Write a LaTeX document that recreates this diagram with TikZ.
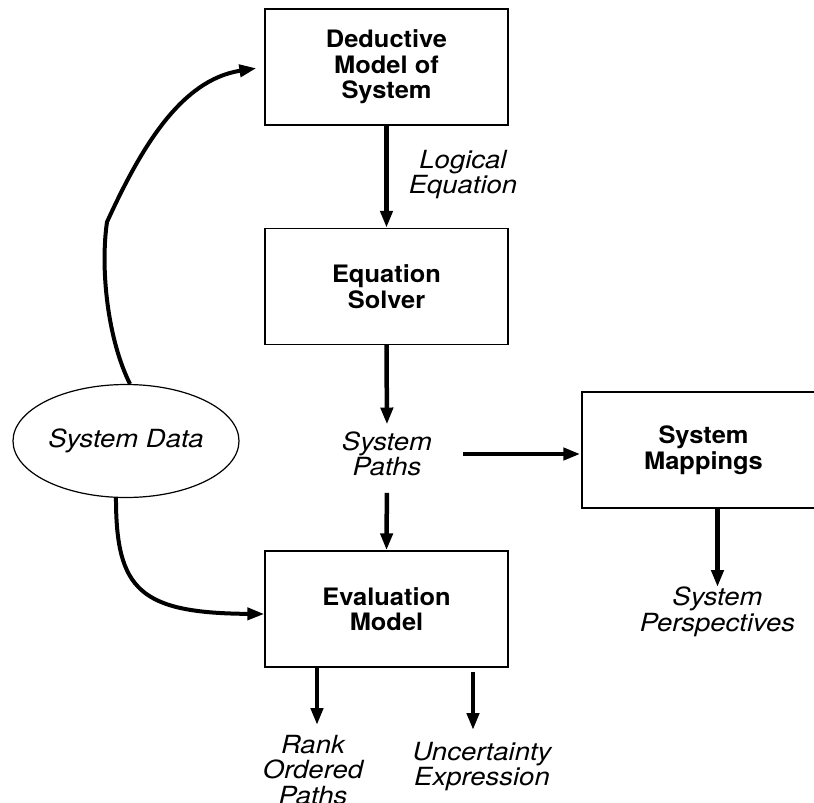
\documentclass[tikz,border=0pt]{standalone}
\usepackage{fontspec}
\setmainfont{TeX Gyre Heros}[FakeStretch=1.06]
\newfontfamily\lblfont{TeX Gyre Heros}[FakeStretch=1.1]
\usetikzlibrary{arrows.meta,shapes.geometric}

\begin{document}
\begin{tikzpicture}[x=1pt,y=-1pt,
  box/.style={draw,line width=1.4pt,minimum width=243pt,minimum height=116pt,
    align=center,inner sep=0pt,font=\fontsize{24}{25.5}\selectfont\bfseries},
  lbl/.style={align=center,inner sep=0pt,font=\lblfont\fontsize{25}{25.5}\selectfont\itshape},
  flow/.style={line width=4.5pt,-{Triangle[length=17pt,width=12pt]}},
  curved/.style={line width=4pt,-{Triangle[length=17pt,width=12pt]}}]
\useasboundingbox (0,0) rectangle (814,803);
\clip (0,0) rectangle (814,803);

% process boxes
\node[box] (deductive) at (386.5,67) {Deductive\\Model of\\System};
\node[box] (solver) at (386.5,286.5) {Equation\\Solver};
\node[box] (eval) at (386.5,609) {Evaluation\\Model};
\node[box] (mappings) at (703.5,450) {System\\Mappings};

% data source
\node[draw,ellipse,line width=1.2pt,minimum width=226pt,minimum height=113pt,
  inner sep=0pt,font=\lblfont\fontsize{25}{25.5}\selectfont\itshape] (data) at (126,441) {System Data};

% intermediate products and outputs
\node[lbl,anchor=north] (logic) at (463,150) {Logical\\Equation};
\node[lbl] (paths) at (387,454) {System\\Paths};
\node[lbl,anchor=north] (persp) at (717.5,587) {System\\Perspectives};
\node[lbl,anchor=north] (rank) at (313,735) {Rank\\Ordered\\Paths};
\node[lbl,anchor=north] (uncert) at (482,742) {Uncertainty\\Expression};

% start of the branch towards the mappings box
\coordinate (pathsout) at ([xshift=76pt]paths.center);

% main flow
\draw[flow] (deductive.south) -- (solver.north);
\draw[flow,shorten >=7pt] (solver.south) -- (paths.north);
\draw[flow,shorten <=16.5pt] (paths.south) -- (eval.north);
\draw[flow,shorten >=1pt] (pathsout) -- (pathsout -| mappings.west);
\draw[flow] ([xshift=14pt]mappings.south) -- ([xshift=14pt]mappings.south |- persp.north) ;
\draw[flow] ([xshift=-69.5pt]eval.south) -- ([xshift=-69.5pt,yshift=10pt]eval.south |- rank.north);
\draw[flow,shorten <=4pt] ([xshift=86.5pt]eval.south) -- ([xshift=86.5pt,yshift=12pt]eval.south |- uncert.north);

% system data feeds
\draw[curved,shorten >=8pt] (data.86) .. controls (108,340) and (100,270) .. (107,222)
  .. controls (140,150) and (180,80) .. (deductive.west);
\draw[curved] (data.260) .. controls (116,590) and (140,613) .. ([yshift=-5pt]eval.west);
\end{tikzpicture}
\end{document}
